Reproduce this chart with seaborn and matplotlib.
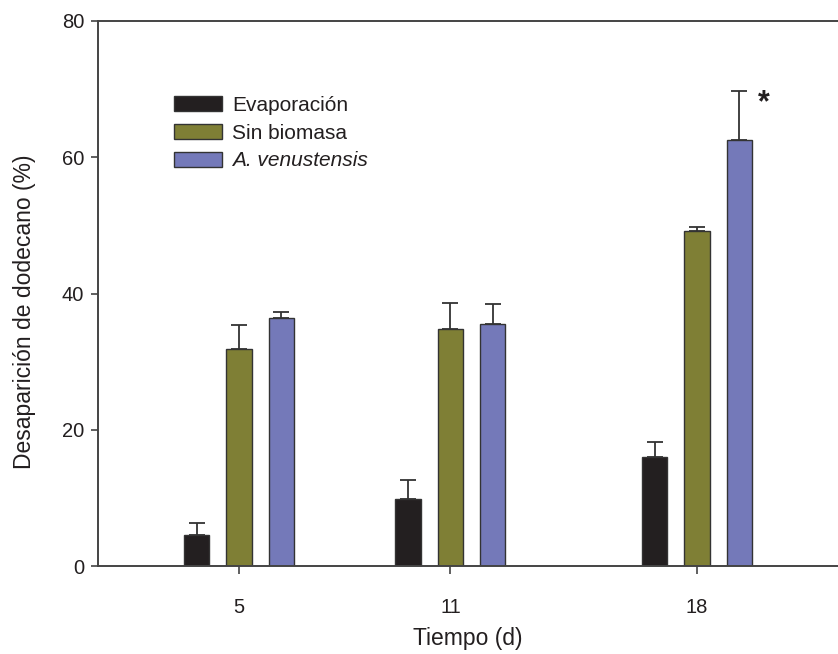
import numpy as np
import pandas as pd
import matplotlib
matplotlib.use("Agg")
import matplotlib.pyplot as plt
import seaborn as sns

# ---- data ----
tiempos = [5, 11, 18]
series = ["Evaporación", "Sin biomasa", "A. venustensis"]
evaporacion = [4.5, 9.9, 16.0]
evaporacion_err = [1.8, 2.7, 2.2]
sin_biomasa = [31.9, 34.8, 49.2]
sin_biomasa_err = [3.5, 3.8, 0.5]
venustensis = [36.4, 35.5, 62.5]
venustensis_err = [0.9, 2.9, 7.2]
colores = ["#231f20", "#7f7f35", "#7479b9"]
yticks = [0, 20, 40, 60, 80]

sns.set_style("ticks")
plt.rcParams["font.family"] = ["Liberation Sans", "DejaVu Sans"]

vals = [evaporacion, sin_biomasa, venustensis]
errs = [evaporacion_err, sin_biomasa_err, venustensis_err]
rows = []
for s, v, e in zip(series, vals, errs):
    for t, vv, ee in zip(tiempos, v, e):
        rows.append({"Tiempo": t, "Serie": s, "Valor": vv, "Err": ee})
df = pd.DataFrame(rows)

fig = plt.figure(figsize=(8.38, 6.54), dpi=100)
ax = fig.add_axes([98 / 838, 1 - 566 / 654, 1 - 98 / 838, (566 - 21) / 654])

sns.barplot(data=df, x="Tiempo", y="Valor", hue="Serie", hue_order=series,
            palette=colores, saturation=1, native_scale=True, width=0.6, gap=0.4,
            errorbar=None, edgecolor="#333333", linewidth=1.0, ax=ax)

# error bars (upward only), positioned on the drawn bars
for cont, s in zip(ax.containers, series):
    sub = df[df["Serie"] == s].sort_values("Tiempo")
    xs = [p.get_x() + p.get_width() / 2 for p in cont.patches]
    hs = [p.get_height() for p in cont.patches]
    ax.errorbar(xs, hs, yerr=[np.zeros(len(hs)), sub["Err"].values],
                fmt="none", ecolor="#333333", elinewidth=1.3, capsize=5.5,
                capthick=1.3, zorder=1)

ax.set_xlim(1, 22)
ax.set_ylim(0, 80)
ax.set_xticks(tiempos)
ax.set_xticklabels([str(t) for t in tiempos])
ax.set_yticks(yticks)
ax.tick_params(axis="both", labelsize=14.5, width=1.2, color="#444444",
               direction="out", labelcolor="#231f20")
ax.tick_params(axis="y", length=5, pad=5)
ax.tick_params(axis="x", length=6, pad=17)

for side in ["left", "bottom", "top"]:
    ax.spines[side].set_visible(True)
    ax.spines[side].set_linewidth(1.4)
    ax.spines[side].set_color("#444444")
ax.spines["right"].set_visible(False)

ax.set_xlabel("Tiempo (d)", fontsize=16.5, labelpad=7, color="#231f20")
ax.set_ylabel("Desaparición de dodecano (%)", fontsize=16.5, color="#231f20")
ax.yaxis.set_label_coords(-(98 - 36) / 740, (566 - 312) / 545)

handles, labels = ax.get_legend_handles_labels()
leg = ax.legend(handles, labels, loc="upper left",
                bbox_to_anchor=(174 / 838, 1 - 96 / 654), bbox_transform=fig.transFigure,
                frameon=False, fontsize=15, handlelength=2.3, handleheight=0.72,
                labelspacing=0.42, handletextpad=0.5, borderpad=0, borderaxespad=0)
for t in leg.get_texts():
    t.set_color("#231f20")
leg.get_texts()[2].set_fontstyle("italic")

ax.text(19.9, 67.9, "*", fontsize=22, fontweight="bold", ha="center", va="center",
        color="#231f20")

fig.savefig("out.png", dpi=100)
